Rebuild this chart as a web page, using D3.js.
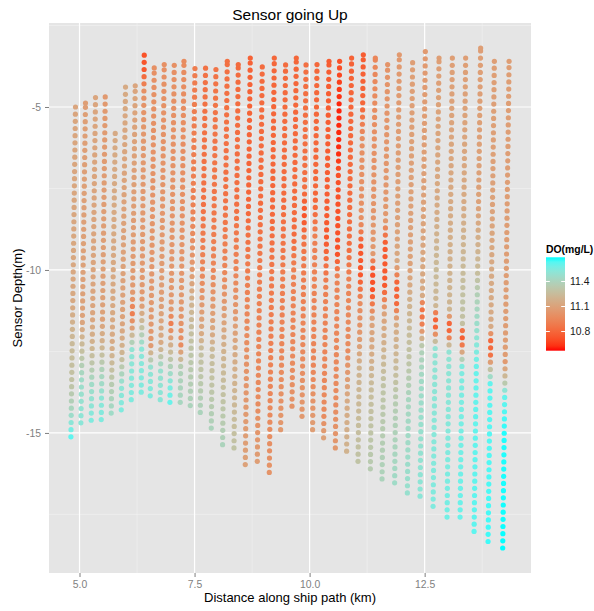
<!DOCTYPE html>
<html>
<head>
<meta charset="utf-8">
<script src="https://cdn.jsdelivr.net/npm/d3@7/dist/d3.min.js"></script>
<style>
  html, body { margin: 0; padding: 0; background: #ffffff; }
  svg { display: block; }
  text { font-family: "Liberation Sans", Arial, Helvetica, sans-serif; }
</style>
</head>
<body>
<svg id="chart" width="594" height="611"></svg>
<script>
// Upcast profiles: distance along the ship path (km) at the bottom and at the top of each cast
const profileDistBottom = [4.813, 5.030, 5.254, 5.472, 5.689, 5.907, 6.124, 6.341, 6.537, 6.754,
  6.965, 7.189, 7.407, 7.624, 7.863, 8.109, 8.357, 8.602, 8.863, 9.124,
  9.370, 9.617, 9.835, 10.065, 10.304, 10.559, 10.804, 11.052, 11.320, 11.574,
  11.848, 12.124, 12.400, 12.683, 12.987, 13.270, 13.574, 13.878, 14.196];
const profileDistTop = [4.913, 5.130, 5.348, 5.559, 5.776, 6.000, 6.211, 6.407, 6.624, 6.841,
  7.059, 7.270, 7.509, 7.739, 7.965, 8.211, 8.450, 8.711, 8.972, 9.233,
  9.478, 9.711, 9.922, 10.161, 10.422, 10.652, 10.913, 11.167, 11.428, 11.696,
  11.950, 12.239, 12.515, 12.813, 13.102, 13.391, 13.717, 14.015, 14.335];

// Deepest and shallowest sensor depth (m) of each cast
const profileDepthBottom = [-15.12, -14.69, -14.61, -14.59, -14.39, -14.29, -13.98, -13.75, -13.86, -13.98,
  -14.06, -14.06, -14.16, -14.37, -14.85, -15.36, -15.46, -15.97, -15.87, -16.21,
  -14.90, -14.18, -14.49, -14.90, -15.15, -15.46, -15.56, -15.87, -16.10, -16.41,
  -16.53, -16.84, -16.94, -17.25, -17.58, -17.58, -18.02, -18.33, -18.53];
const profileDepthTop = [-4.96, -4.88, -4.67, -4.67, -5.80, -4.35, -4.35, -3.37, -3.80, -3.70,
  -3.71, -3.60, -3.80, -3.80, -3.80, -3.60, -3.70, -3.50, -3.72, -3.50,
  -3.71, -3.50, -3.70, -3.70, -3.60, -3.60, -3.50, -3.40, -3.50, -3.70,
  -3.40, -3.60, -3.29, -3.50, -3.50, -3.50, -3.19, -3.60, -3.60];

// Dissolved oxygen readings (mg/L) along each cast, as [depth, DO] pairs
const profileDO = [
  [[-4.96, 11.12], [-11, 11.14], [-12.3, 11.25], [-13.5, 11.3], [-14.3, 11.42], [-14.8, 11.55], [-15.12, 11.62]],
  [[-4.88, 11.08], [-11.5, 11.1], [-12.5, 11.28], [-13.3, 11.45], [-14.69, 11.52]],
  [[-4.67, 11.12], [-11.5, 11.12], [-12.3, 11.2], [-13.5, 11.45], [-14.61, 11.55]],
  [[-4.67, 11.05], [-11.5, 11.1], [-12.3, 11.2], [-13, 11.38], [-14, 11.52], [-14.59, 11.55]],
  [[-5.8, 11.15], [-11.5, 11.14], [-12.3, 11.15], [-13.5, 11.35], [-14.39, 11.45]],
  [[-4.35, 11.15], [-8, 11.1], [-11.5, 11.1], [-12.5, 11.2], [-13.5, 11.5], [-14.29, 11.55]],
  [[-4.35, 11.12], [-8, 11.08], [-10.8, 11.05], [-11.3, 10.9], [-11.8, 11.1], [-12.4, 11.5], [-13.98, 11.55]],
  [[-3.37, 10.72], [-3.9, 10.75], [-4.5, 11.0], [-6, 11.05], [-11, 11.05], [-11.8, 11.3], [-12.4, 11.52], [-13.75, 11.55]],
  [[-3.8, 11.0], [-8, 11.02], [-11, 11.05], [-12.3, 11.05], [-13, 11.5], [-13.86, 11.55]],
  [[-3.7, 11.0], [-8, 11.03], [-11, 11.08], [-12.3, 11.15], [-13, 11.48], [-13.98, 11.52]],
  [[-3.71, 11.0], [-8, 11.02], [-11.2, 11.05], [-11.6, 10.9], [-12.3, 11.18], [-13.5, 11.55], [-14.06, 11.6]],
  [[-3.6, 10.98], [-8, 11.0], [-11, 11.05], [-12.3, 10.98], [-13, 11.38], [-14.06, 11.42]],
  [[-3.8, 10.9], [-8, 10.92], [-10, 11.05], [-11, 11.2], [-12.3, 11.3], [-14.16, 11.4]],
  [[-3.8, 10.85], [-8, 10.85], [-10, 10.95], [-11, 11.05], [-12, 11.15], [-12.5, 11.28], [-13, 11.3], [-14.37, 11.4]],
  [[-3.8, 10.86], [-8, 10.87], [-10, 10.95], [-11, 11.05], [-12, 11.15], [-12.5, 11.25], [-13.5, 11.3], [-14.85, 11.4]],
  [[-3.6, 10.84], [-8, 10.85], [-10, 10.95], [-11, 11.05], [-12.5, 11.2], [-14, 11.3], [-15.36, 11.4]],
  [[-3.7, 10.82], [-8, 10.84], [-10, 10.94], [-11, 11.02], [-12.5, 11.15], [-13.5, 11.2], [-15.46, 11.3]],
  [[-3.5, 10.78], [-8, 10.8], [-10, 10.9], [-12, 10.98], [-13, 11.02], [-15.97, 11.1]],
  [[-3.72, 10.82], [-8, 10.82], [-10, 10.9], [-12.5, 10.95], [-14, 10.98], [-15.87, 11.08]],
  [[-3.5, 10.8], [-8, 10.8], [-10, 10.88], [-12.5, 10.92], [-16.21, 11.02]],
  [[-3.71, 10.82], [-8, 10.82], [-10, 10.9], [-12.5, 10.95], [-14.9, 11.05]],
  [[-3.5, 10.8], [-9, 10.82], [-10, 10.92], [-12, 10.95], [-14.18, 11.02]],
  [[-3.7, 10.84], [-7.5, 10.84], [-8.3, 10.72], [-9, 10.85], [-10, 10.9], [-12, 10.95], [-14.49, 11.05]],
  [[-3.7, 10.8], [-8, 10.8], [-9, 10.92], [-13, 10.95], [-14.9, 11.08]],
  [[-3.6, 10.76], [-8, 10.76], [-9, 10.74], [-10.5, 10.92], [-13, 10.95], [-14.5, 10.98], [-15.15, 11.1]],
  [[-3.6, 10.72], [-5, 10.6], [-6.5, 10.62], [-7, 10.72], [-9.5, 10.72], [-10.2, 10.93], [-14, 10.98], [-15.46, 11.05]],
  [[-3.5, 10.78], [-7, 10.82], [-9.5, 10.84], [-10.5, 10.95], [-12.5, 10.98], [-14, 11.15], [-15.56, 11.2]],
  [[-3.4, 10.76], [-5, 10.8], [-6, 11.0], [-8.5, 11.0], [-9.2, 10.74], [-10.2, 10.74], [-11, 10.98], [-12, 11.05], [-13, 11.2], [-15.87, 11.3]],
  [[-3.5, 10.95], [-6, 11.0], [-9.5, 11.05], [-10, 10.72], [-10.7, 10.72], [-11.5, 11.1], [-12.5, 11.15], [-13.5, 11.25], [-16.1, 11.35]],
  [[-3.7, 11.02], [-8.5, 11.05], [-9.2, 10.75], [-10.5, 10.75], [-11.3, 11.1], [-13.5, 11.3], [-16.41, 11.4]],
  [[-3.4, 11.05], [-9, 11.1], [-9.8, 11.15], [-10.4, 10.78], [-11, 10.8], [-11.6, 11.15], [-13, 11.25], [-14, 11.35], [-16.53, 11.45]],
  [[-3.6, 11.08], [-10, 11.1], [-11, 11.2], [-13, 11.32], [-14, 11.42], [-16.84, 11.48]],
  [[-3.29, 11.05], [-8, 11.1], [-10.8, 11.15], [-11.1, 10.85], [-11.6, 10.88], [-12.4, 11.38], [-13.5, 11.45], [-16.94, 11.52]],
  [[-3.5, 11.08], [-8, 11.15], [-10, 11.25], [-11.1, 11.22], [-11.4, 10.78], [-11.8, 10.8], [-12.4, 11.5], [-17.25, 11.55]],
  [[-3.5, 11.08], [-8, 11.15], [-10, 11.2], [-11.3, 11.22], [-11.6, 10.8], [-12, 10.82], [-12.5, 11.5], [-14, 11.52], [-17.58, 11.58]],
  [[-3.5, 11.08], [-8, 11.15], [-10, 11.25], [-11, 11.3], [-11.7, 11.28], [-11.9, 10.75], [-12.2, 10.78], [-12.9, 11.55], [-17.58, 11.6]],
  [[-3.19, 11.08], [-8, 11.1], [-10, 11.25], [-10.8, 11.38], [-12, 11.5], [-13, 11.6], [-18.02, 11.62]],
  [[-3.6, 11.08], [-8, 11.1], [-10, 11.15], [-11.8, 11.15], [-12.2, 10.78], [-12.6, 10.85], [-13, 11.25], [-13.5, 11.62], [-18.33, 11.66]],
  [[-3.6, 11.08], [-12.5, 11.08], [-12.85, 11.05], [-13.2, 11.2], [-13.5, 11.35], [-13.8, 11.6], [-15, 11.68], [-18.53, 11.69]]
];

// Vertical distance between logged samples on the way up (m)
const sampleStep = 0.22;

// Axis breaks and labels
const xTicks = [5, 7.5, 10, 12.5];
const xTickLabels = ["5.0", "7.5", "10.0", "12.5"];
const xMinorTicks = [6.25, 8.75, 11.25, 13.75];
const yTicks = [-5, -10, -15];
const yTickLabels = ["-5", "-10", "-15"];
const yMinorTicks = [-2.5, -7.5, -12.5, -17.5];

// Colour bar limits and breaks
const doLimits = [10.57, 11.69];
const doBreaks = [10.8, 11.1, 11.4];
const doBreakLabels = ["10.8", "11.1", "11.4"];

const titleText = "Sensor going Up";
const xTitle = "Distance along ship path (km)";
const yTitle = "Sensor Depth(m)";
const legendTitle = "DO(mg/L)";

// ---- build the sample table ----
const samples = [];
profileDO.forEach((knots, i) => {
  const doAtDepth = d3.scaleLinear()
    .domain(knots.map(k => k[0]))
    .range(knots.map(k => k[1]))
    .clamp(true);
  const distAtDepth = d3.scaleLinear()
    .domain([profileDepthBottom[i], profileDepthTop[i]])
    .range([profileDistBottom[i], profileDistTop[i]]);
  const depths = d3.range(profileDepthBottom[i], profileDepthTop[i] + 1e-6, sampleStep);
  if (depths[depths.length - 1] < profileDepthTop[i] - 0.05) depths.push(profileDepthTop[i]);
  depths.forEach(d => {
    samples.push({ dist: distAtDepth(d), depth: d, DO: doAtDepth(d) });
  });
});

// ---- layout ----
const svg = d3.select("#chart");
const panel = { left: 49, right: 531, top: 23, bottom: 573 };

function expand(ext, f) {
  const r = ext[1] - ext[0];
  return [ext[0] - r * f, ext[1] + r * f];
}

const x = d3.scaleLinear()
  .domain(expand(d3.extent(samples, d => d.dist), 0.05))
  .range([panel.left, panel.right]);
const y = d3.scaleLinear()
  .domain(expand(d3.extent(samples, d => d.depth), 0.05))
  .range([panel.bottom, panel.top]);

const colour = d3.scaleLinear()
  .domain(doLimits)
  .range(["#ff0000", "#00ffff"])
  .interpolate(d3.interpolateLab)
  .clamp(true);

// panel background
svg.append("rect")
  .attr("x", panel.left).attr("y", panel.top)
  .attr("width", panel.right - panel.left)
  .attr("height", panel.bottom - panel.top)
  .attr("fill", "#e5e5e5");

const grid = svg.append("g");
// minor grid
grid.selectAll("line.xminor").data(xMinorTicks).join("line")
  .attr("x1", d => x(d)).attr("x2", d => x(d))
  .attr("y1", panel.top).attr("y2", panel.bottom)
  .attr("stroke", "#f2f2f2").attr("stroke-width", 0.6);
grid.selectAll("line.yminor").data(yMinorTicks.filter(v => y(v) > panel.top + 1)).join("line")
  .attr("y1", d => y(d)).attr("y2", d => y(d))
  .attr("x1", panel.left).attr("x2", panel.right)
  .attr("stroke", "#f2f2f2").attr("stroke-width", 0.6);
// major grid
grid.selectAll("line.xmajor").data(xTicks).join("line")
  .attr("x1", d => x(d)).attr("x2", d => x(d))
  .attr("y1", panel.top).attr("y2", panel.bottom)
  .attr("stroke", "#ffffff").attr("stroke-width", 1.2);
grid.selectAll("line.ymajor").data(yTicks).join("line")
  .attr("y1", d => y(d)).attr("y2", d => y(d))
  .attr("x1", panel.left).attr("x2", panel.right)
  .attr("stroke", "#ffffff").attr("stroke-width", 1.2);

// points
svg.append("g")
  .selectAll("circle")
  .data(samples)
  .join("circle")
  .attr("cx", d => x(d.dist))
  .attr("cy", d => y(d.depth))
  .attr("r", 2.6)
  .attr("fill", d => colour(d.DO));

// axes
const xAxis = d3.axisBottom(x)
  .tickValues(xTicks)
  .tickFormat((d, i) => xTickLabels[i])
  .tickSize(4).tickPadding(4);
const gx = svg.append("g")
  .attr("transform", `translate(0,${panel.bottom})`)
  .call(xAxis);
const yAxis = d3.axisLeft(y)
  .tickValues(yTicks)
  .tickFormat((d, i) => yTickLabels[i])
  .tickSize(4).tickPadding(4);
const gy = svg.append("g")
  .attr("transform", `translate(${panel.left},0)`)
  .call(yAxis);
[gx, gy].forEach(g => {
  g.select(".domain").remove();
  g.selectAll(".tick line").attr("stroke", "#7f7f7f").attr("stroke-width", 1);
  g.selectAll(".tick text")
    .attr("fill", "#7f7f7f")
    .style("font-size", "10.4px")
    .style("font-family", "'Liberation Sans', Arial, sans-serif");
});

// titles
svg.append("text")
  .attr("x", (panel.left + panel.right) / 2).attr("y", 20)
  .attr("text-anchor", "middle")
  .style("font-size", "15.5px")
  .attr("fill", "#000")
  .text(titleText);
svg.append("text")
  .attr("x", (panel.left + panel.right) / 2).attr("y", 602)
  .attr("text-anchor", "middle")
  .style("font-size", "13px")
  .attr("fill", "#000")
  .text(xTitle);
svg.append("text")
  .attr("transform", `translate(22,${(panel.top + panel.bottom) / 2}) rotate(-90)`)
  .attr("text-anchor", "middle")
  .style("font-size", "13px")
  .attr("fill", "#000")
  .text(yTitle);

// colour bar legend
const bar = { x: 546, width: 19, top: 257.3, bottom: 350.7 };
const legendY = d3.scaleLinear().domain(doLimits).range([bar.bottom, bar.top]);
const defs = svg.append("defs");
const grad = defs.append("linearGradient")
  .attr("id", "doGradient")
  .attr("x1", 0).attr("y1", 1).attr("x2", 0).attr("y2", 0);
d3.range(0, 1.0001, 0.05).forEach(t => {
  grad.append("stop")
    .attr("offset", t)
    .attr("stop-color", colour(doLimits[0] + t * (doLimits[1] - doLimits[0])));
});
const legend = svg.append("g");
legend.append("text")
  .attr("x", bar.x).attr("y", 253)
  .style("font-size", "10.4px")
  .style("font-weight", "bold")
  .attr("fill", "#000")
  .text(legendTitle);
legend.append("rect")
  .attr("x", bar.x).attr("y", bar.top)
  .attr("width", bar.width).attr("height", bar.bottom - bar.top)
  .attr("fill", "url(#doGradient)");
legend.selectAll("line.tl").data(doBreaks).join("line")
  .attr("x1", bar.x).attr("x2", bar.x + 3.8)
  .attr("y1", d => legendY(d)).attr("y2", d => legendY(d))
  .attr("stroke", "#ffffff").attr("stroke-width", 1);
legend.selectAll("line.tr").data(doBreaks).join("line")
  .attr("x1", bar.x + bar.width - 3.8).attr("x2", bar.x + bar.width)
  .attr("y1", d => legendY(d)).attr("y2", d => legendY(d))
  .attr("stroke", "#ffffff").attr("stroke-width", 1);
legend.selectAll("text.lab").data(doBreaks).join("text")
  .attr("x", bar.x + bar.width + 5)
  .attr("y", d => legendY(d))
  .attr("dy", "0.35em")
  .style("font-size", "10.4px")
  .attr("fill", "#1a1a1a")
  .text((d, i) => doBreakLabels[i]);
</script>
</body>
</html>
